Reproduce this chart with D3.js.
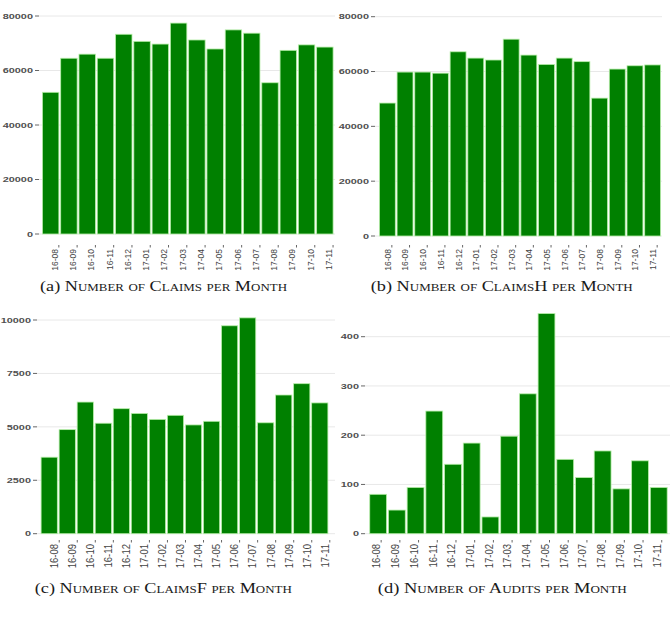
<!DOCTYPE html>
<meta charset="utf-8">
<style>
body { margin: 0; background: #fff; }
.bar { fill: #008000; stroke: #b8eeaa; stroke-width: 0.8; }
.grid { stroke: #e8e8e8; stroke-width: 1; }
.tick { stroke: #666; stroke-width: 1; }
.ylab { fill: #505050; font-family: "Liberation Sans", Arial, sans-serif; font-weight: bold; font-size: 7.8px; }
.xlab { fill: #444; font-family: "Liberation Sans", Arial, sans-serif; }
.caption { font-family: "Liberation Serif", "DejaVu Serif", serif; font-size: 15.5px; fill: #1a1a1a; }
.sc { font-variant: small-caps; }
</style>
<body>
<script src="https://d3js.org/d3.v7.min.js"></script>
<script>

// months on the x axis
var months = ["16-08", "16-09", "16-10", "16-11", "16-12", "17-01", "17-02", "17-03",
              "17-04", "17-05", "17-06", "17-07", "17-08", "17-09", "17-10", "17-11"];

// values
var claims  = [52000, 64500, 66000, 64500, 73300, 70700, 69700, 77400,
               71200, 67900, 74900, 73700, 55500, 67400, 69400, 68600];
var claimsH = [48500, 59800, 59800, 59400, 67200, 64900, 64200, 71800,
               66000, 62600, 64900, 63600, 50300, 60900, 62100, 62400];
var claimsF = [3580, 4870, 6160, 5170, 5850, 5630, 5350, 5540,
               5090, 5260, 9730, 10100, 5190, 6490, 7020, 6120];
var audits  = [80, 48, 94, 249, 141, 184, 34, 198,
               284, 447, 151, 114, 168, 91, 148, 94];

// y tick labels
var ticksClaims  = [0, 20000, 40000, 60000, 80000];
var ticksClaimsF = [0, 2500, 5000, 7500, 10000];
var ticksAudits  = [0, 100, 200, 300, 400];

// captions: letter, then the small caps part
var captionTags  = ["(a)", "(b)", "(c)", "(d)"];
var captionTexts = ["Number of Claims per Month",
                    "Number of ClaimsH per Month",
                    "Number of ClaimsF per Month",
                    "Number of Audits per Month"];

var svg = d3.select("body").append("svg")
    .attr("width", 670)
    .attr("height", 624);

// layout of each panel (pixel positions)
var panels = [
  {values: claims,  ticks: ticksClaims,
   left: 41.5, right: 334, base: 234, top: 16, tickX: 35, gridR: 340, clip: [0, 335],
   labDx: 3.7, markDx: 8.2, labY: 249, fs: 8.5, capX: 163.5, capY: 291, capW: 247},
  {values: claimsH, ticks: ticksClaims,
   left: 378.5, right: 661.5, base: 236, top: 16.7, tickX: 371, gridR: 662, clip: [335, 670],
   labDx: 0, markDx: 4.5, labY: 249, fs: 8.5, capX: 501.7, capY: 291, capW: 262},
  {values: claimsF, ticks: ticksClaimsF,
   left: 40.2, right: 328.8, base: 533.7, top: 320, tickX: 33, gridR: 340, clip: [0, 335],
   labDx: 5, markDx: 10, labY: 544, fs: 9.5, capX: 163.3, capY: 593, capW: 257},
  {values: audits,  ticks: ticksAudits,
   left: 368.8, right: 668.1, base: 533.7, top: 336.7, tickX: 361, gridR: 672, clip: [335, 670],
   labDx: -1.5, markDx: 3, labY: 544, fs: 9.5, capX: 502.3, capY: 593, capW: 249}
];

panels.forEach(function(p, i) {
  var x = d3.scaleBand()
      .domain(months)
      .range([p.left, p.right])
      .paddingInner(0.1)
      .paddingOuter(0.05);
  var y = d3.scaleLinear()
      .domain([0, p.ticks[p.ticks.length - 1]])
      .range([p.base, p.top]);

  svg.append("clipPath").attr("id", "clip" + i)
    .append("rect")
      .attr("x", p.clip[0]).attr("y", 0)
      .attr("width", p.clip[1] - p.clip[0]).attr("height", 624);

  var g = svg.append("g").attr("clip-path", "url(#clip" + i + ")");

  // horizontal grid lines
  g.selectAll(".grid")
      .data(p.ticks)
    .enter().append("line")
      .attr("class", "grid")
      .attr("x1", p.tickX + 4).attr("x2", p.gridR)
      .attr("y1", function(d) { return y(d); })
      .attr("y2", function(d) { return y(d); });

  // y ticks and labels
  g.selectAll(".tick")
      .data(p.ticks)
    .enter().append("line")
      .attr("class", "tick")
      .attr("x1", p.tickX).attr("x2", p.tickX + 4)
      .attr("y1", function(d) { return y(d); })
      .attr("y2", function(d) { return y(d); });

  g.selectAll(".ylab")
      .data(p.ticks)
    .enter().append("g")
      .attr("transform", function(d) { return "translate(" + (p.tickX - 2) + "," + y(d) + ") scale(1.4,1)"; })
    .append("text")
      .attr("class", "ylab")
      .attr("text-anchor", "end")
      .attr("dy", "0.35em")
      .text(function(d) { return d; });

  // bars
  g.selectAll(".bar")
      .data(p.values)
    .enter().append("rect")
      .attr("class", "bar")
      .attr("x", function(d, j) { return x(months[j]); })
      .attr("width", x.bandwidth())
      .attr("y", function(d) { return y(d); })
      .attr("height", function(d) { return p.base - y(d); });

  // x tick marks and rotated labels
  g.selectAll(".xmark")
      .data(months)
    .enter().append("line")
      .attr("class", "tick")
      .attr("x1", function(d) { return x(d) + x.bandwidth() / 2 + p.markDx; })
      .attr("x2", function(d) { return x(d) + x.bandwidth() / 2 + p.markDx; })
      .attr("y1", p.labY - 4).attr("y2", p.labY - 1.5);

  g.selectAll(".xlab")
      .data(months)
    .enter().append("text")
      .attr("class", "xlab")
      .attr("font-size", p.fs + "px")
      .attr("text-anchor", "end")
      .attr("dy", "0.35em")
      .attr("transform", function(d) {
        return "translate(" + (x(d) + x.bandwidth() / 2 + p.labDx) + "," + p.labY + ") rotate(-90) scale(1,1.15)";
      })
      .text(function(d) { return d; });

  // caption under the panel
  var cap = svg.append("text")
      .attr("class", "caption")
      .attr("x", p.capX)
      .attr("y", p.capY)
      .attr("text-anchor", "middle")
      .attr("textLength", p.capW)
      .attr("lengthAdjust", "spacingAndGlyphs");
  cap.append("tspan").text(captionTags[i] + " ");
  cap.append("tspan").attr("class", "sc").text(captionTexts[i]);
});

</script>
</body>
